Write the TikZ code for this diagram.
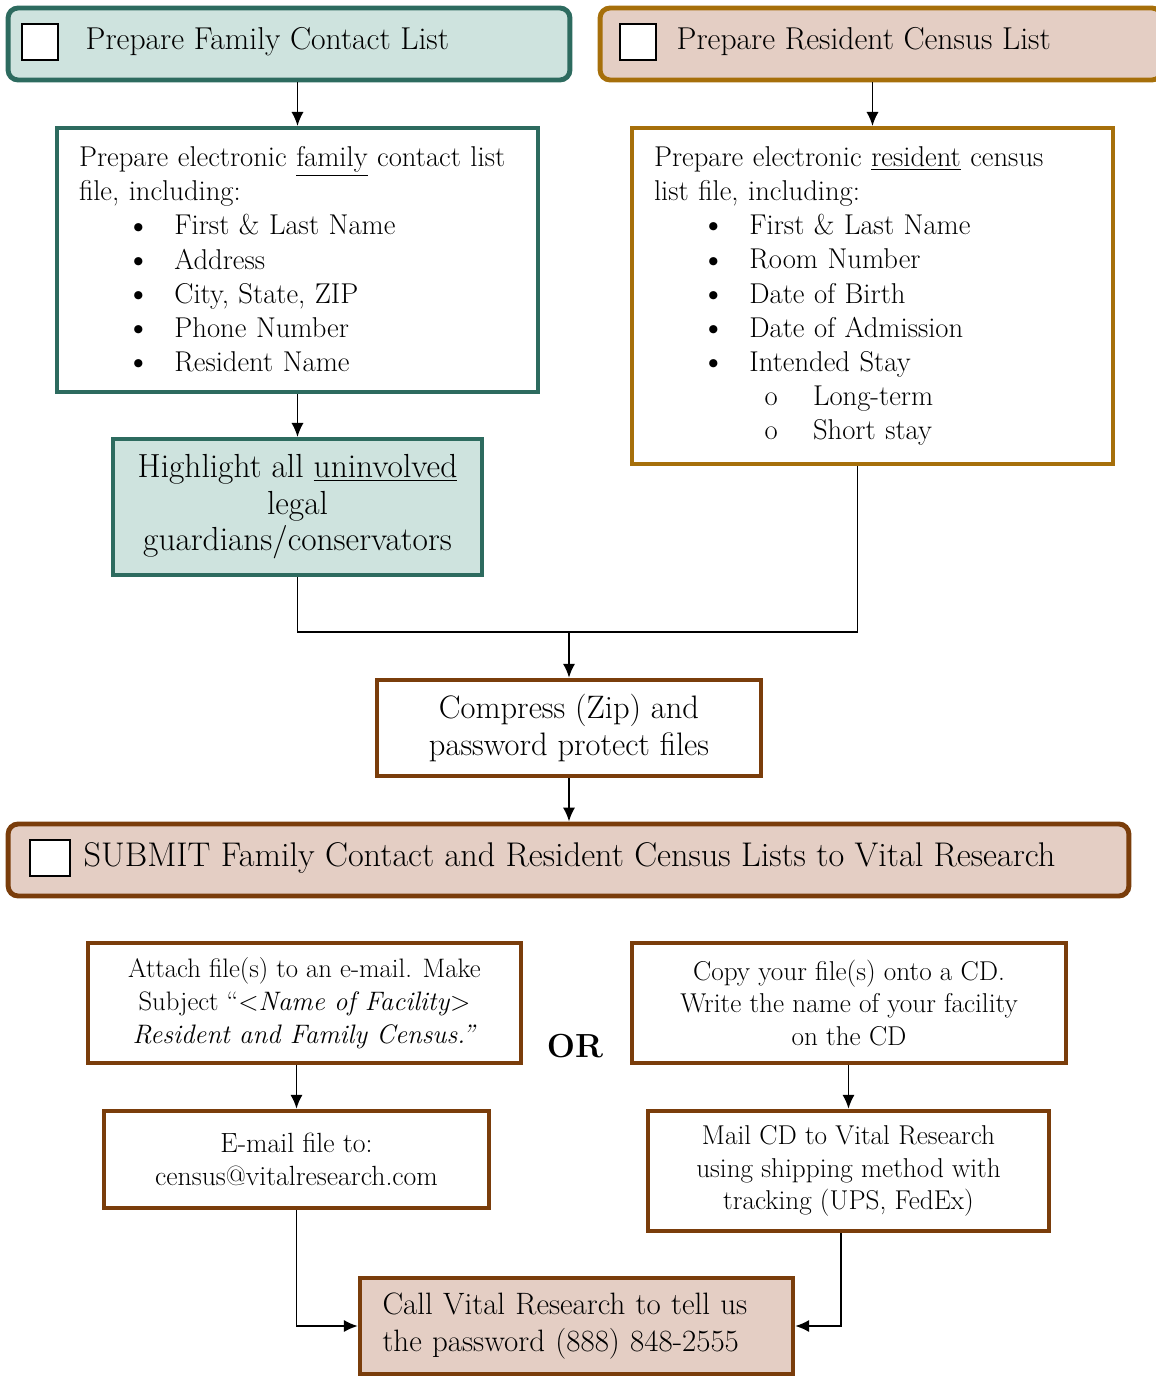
\documentclass[tikz,border=0pt]{standalone}
\usetikzlibrary{positioning,arrows.meta}

\definecolor{tealline}{HTML}{2D6B5F}
\definecolor{tealfill}{HTML}{CEE3DE}
\definecolor{goldline}{HTML}{A66F0A}
\definecolor{rosefill}{HTML}{E4CEC4}
\definecolor{brownline}{HTML}{7A3D0B}

\newcommand\bigdot{\raisebox{-1.2pt}{\fontsize{21}{0}\selectfont\textbullet}}
\newcommand\lstitem[1]{\hspace*{26.5pt}\makebox[27.8pt][l]{\bigdot}#1}
\newcommand\lstsub[1]{\hspace*{63pt}\makebox[27.5pt][l]{o}#1}

\begin{document}
\begin{tikzpicture}[x=0.02cm,y=-0.02cm,
  headbox/.style={draw,rounded corners=0.2cm,line width=2.8pt,minimum height=1.44cm},
  chkbox/.style={draw=black,fill=white,line width=1.5pt,minimum width=0.72cm,minimum height=0.72cm,inner sep=0},
  headtxt/.style={inner sep=0,font=\fontsize{18}{21}\selectfont},
  listbox/.style={draw,fill=white,line width=2.3pt,align=left,inner xsep=0.44cm,text width=8.74cm,font=\fontsize{16.3}{19.4}\selectfont},
  stepbox/.style={draw=brownline,fill=white,line width=2.5pt,align=center},
  link/.style={line width=1.1pt,-{Latex[length=8pt,width=7pt]}},
  plain/.style={line width=1.1pt}]

\useasboundingbox (0,0) rectangle (1156,1376);

% top headers
\node[headbox,draw=tealline,fill=tealfill,minimum width=11.24cm] (famhead) at (289,44) {};
\node[chkbox] (famchk) at (40,42) {};
\node[headtxt,right=0.52cm of famchk] (famtitle) {Prepare Family Contact List};
\node[headbox,draw=goldline,fill=rosefill,minimum width=11.24cm] (reshead) at (881,44) {};
\node[chkbox] (reschk) at (638,42) {};
\node[headtxt,right=0.38cm of reschk] (restitle) {Prepare Resident Census List};

% lists
\node[listbox,draw=tealline,minimum height=5.28cm] (famlist) at (297.5,260)
  {Prepare electronic \underline{family} contact list\\
   file, including:\\
   \lstitem{First \& Last Name}\\
   \lstitem{Address}\\
   \lstitem{City, State, ZIP}\\
   \lstitem{Phone Number}\\
   \lstitem{Resident Name}};
\node[listbox,draw=goldline,minimum height=6.72cm] (reslist) at (872.5,296)
  {Prepare electronic \underline{resident} census\\
   list file, including:\\
   \lstitem{First \& Last Name}\\
   \lstitem{Room Number}\\
   \lstitem{Date of Birth}\\
   \lstitem{Date of Admission}\\
   \lstitem{Intended Stay}\\
   \lstsub{Long-term}\\
   \lstsub{Short stay}};

\node[draw=tealline,fill=tealfill,line width=2.3pt,minimum width=7.38cm,minimum height=2.72cm,
  align=center,font=\fontsize{19}{20.8}\selectfont] (highlight) at (297.5,507)
  {Highlight all \underline{uninvolved}\\legal\\guardians/conservators};

\node[stepbox,minimum width=7.68cm,minimum height=1.92cm,font=\fontsize{18.5}{21}\selectfont] (compress) at (569,728)
  {Compress (Zip) and\\password protect files};

% submit header
\node[headbox,draw=brownline,fill=rosefill,minimum width=22.42cm] (submit) at (568.5,860) {};
\node[chkbox,minimum width=0.8cm] (subchk) at (50,858) {};
\node[headtxt,font=\fontsize{19.5}{22}\selectfont,right=0.24cm of subchk] (subtitle)
  {SUBMIT Family Contact and Resident Census Lists to Vital Research};

% two ways
\node[stepbox,minimum width=8.66cm,minimum height=2.4cm,font=\fontsize{15.2}{18.7}\selectfont] (attach) at (304.5,1003)
  {Attach file(s) to an e-mail. Make\\
   Subject “<\textit{Name of Facility}>\\
   \textit{Resident and Family Census.”}};
\node[stepbox,minimum width=8.68cm,minimum height=2.4cm,font=\fontsize{15.5}{18.7}\selectfont] (copycd) at (849,1003)
  {Copy your file(s) onto a CD.\\Write the name of your facility\\on the CD};
\node[font=\bfseries\fontsize{19}{22}\selectfont] (ortxt) at (575,1046) {OR};
\node[stepbox,minimum width=7.7cm,minimum height=1.94cm,font=\fontsize{15.8}{18.7}\selectfont] (emailto) at (296.5,1159.5)
  {E-mail file to:\\census@vitalresearch.com};
\node[stepbox,minimum width=8.02cm,minimum height=2.4cm,font=\fontsize{15.5}{18.7}\selectfont] (mailcd) at (848.5,1171)
  {Mail CD to Vital Research\\using shipping method with\\tracking (UPS, FedEx)};
\node[stepbox,fill=rosefill,align=left,text width=7.76cm,inner xsep=0.45cm,minimum height=1.92cm,
  font=\fontsize{17.6}{21}\selectfont] (callvr) at (576.5,1326)
  {Call Vital Research to tell us\\the password (888) 848-2555};

% connectors
\draw[link] (famlist.north |- famhead.south) -- (famlist.north);
\draw[link] (reslist.north |- reshead.south) -- (reslist.north);
\draw[link] (famlist.south) -- (highlight.north);
\coordinate (merge) at (569,632);
\draw[plain] (highlight.south) |- (merge) -| ([xshift=-0.3cm]reslist.south);
\draw[link] (merge) -- (compress.north);
\draw[link] (compress.south) -- (compress.south |- submit.north);
\draw[link] (emailto.north |- attach.south) -- (emailto.north);
\draw[link] (mailcd.north |- copycd.south) -- (mailcd.north);
\draw[link] (emailto.south) |- (callvr.west);
\draw[link] ([xshift=-0.15cm]mailcd.south) |- (callvr.east);
\end{tikzpicture}
\end{document}
